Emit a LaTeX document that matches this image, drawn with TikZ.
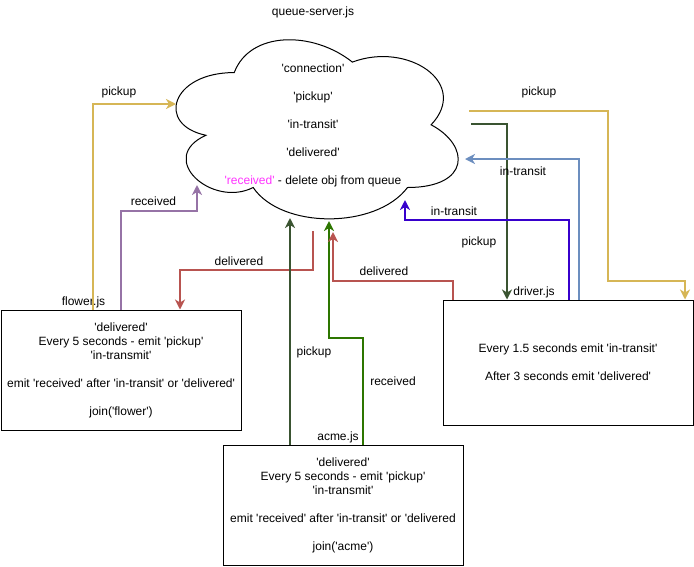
\documentclass[tikz,border=0pt]{standalone}
\usepackage{fontspec}
\newfontfamily\diagfont{Liberation Sans}
\usetikzlibrary{arrows.meta}

\definecolor{cYellow}{HTML}{D6B656}
\definecolor{cPurple}{HTML}{9673A6}
\definecolor{cRed}{HTML}{B85450}
\definecolor{cDkGreen}{HTML}{3A5431}
\definecolor{cGreen}{HTML}{2D7600}
\definecolor{cBlue}{HTML}{6C8EBF}
\definecolor{cViolet}{HTML}{3700CC}
\definecolor{cMagenta}{HTML}{FF33FF}

\begin{document}
\begin{tikzpicture}[x=1pt, y=-1pt,
  font=\diagfont\fontsize{12}{14}\selectfont,
  procbox/.style={draw=black, line width=1pt, align=center, inner sep=0pt},
  link/.style={line width=2pt, -{Stealth[length=10pt,width=10pt,inset=3pt]}},
  lbl/.style={inner sep=0pt, anchor=base}]

\useasboundingbox (0,0) rectangle (694,566);

% queue server cloud
\def\cx{155.5}\def\cy{20.3}\def\cw{315}\def\ch{209}
\draw[line width=1pt] ({\cx+.25*\cw},{\cy+.25*\ch})
  .. controls ({\cx+.05*\cw},{\cy+.25*\ch}) and ({\cx},{\cy+.5*\ch}) .. ({\cx+.16*\cw},{\cy+.55*\ch})
  .. controls ({\cx},{\cy+.66*\ch}) and ({\cx+.18*\cw},{\cy+.9*\ch}) .. ({\cx+.31*\cw},{\cy+.8*\ch})
  .. controls ({\cx+.4*\cw},{\cy+\ch}) and ({\cx+.7*\cw},{\cy+\ch}) .. ({\cx+.8*\cw},{\cy+.8*\ch})
  .. controls ({\cx+\cw},{\cy+.8*\ch}) and ({\cx+\cw},{\cy+.6*\ch}) .. ({\cx+.875*\cw},{\cy+.5*\ch})
  .. controls ({\cx+\cw},{\cy+.3*\ch}) and ({\cx+.8*\cw},{\cy+.1*\ch}) .. ({\cx+.625*\cw},{\cy+.2*\ch})
  .. controls ({\cx+.5*\cw},{\cy+.05*\ch}) and ({\cx+.3*\cw},{\cy+.05*\ch}) .. cycle;

\node[align=center, inner sep=0pt] (server) at (313,125.5)
  {'connection'\\[14pt]'pickup'\\[14pt]'in-transit'\\[14pt]'delivered'\\[14pt]{\color{cMagenta}'received'} - delete obj from queue};
\node[lbl] (servertitle) at (313,15) {queue-server.js};

% attachment points on the cloud
\coordinate (sFlPick) at (176,104);
\coordinate (sFlRcv)  at (197,185);
\coordinate (sFlDlv)  at (313,231);
\coordinate (sAcPick) at (290,218);
\coordinate (sAcRcv)  at (329,221);
\coordinate (sDrDlv)  at (333,232);
\coordinate (sDrPickY) at (469,111);
\coordinate (sDrPickG) at (471,124);
\coordinate (sDrTrB)  at (465,159);
\coordinate (sDrTrV)  at (405,200);

% client boxes
\node[procbox, minimum width=240pt, minimum height=120pt] (flower) at (121,370)
  {'delivered'\\Every 5 seconds - emit 'pickup'\\'in-transmit'\\[14pt]emit 'received' after 'in-transit' or 'delivered'\\[14pt]join('flower')};
\node[procbox, minimum width=240pt, minimum height=120pt] (acme) at (343,505)
  {'delivered'\\Every 5 seconds - emit 'pickup'\\'in-transmit'\\[14pt]emit 'received' after 'in-transit' or 'delivered\\[14pt]join('acme')};
\node[procbox, minimum width=250pt, minimum height=125pt] (driver) at (568,362.5)
  {Every 1.5 seconds emit 'in-transit'\\[14pt]After 3 seconds emit 'delivered'};

\node[lbl] (flowerjs) at (83.5,305) {flower.js};
\node[lbl] (acmejs) at (338,440) {acme.js};
\node[lbl] (driverjs) at (534,295) {driver.js};

% flower <-> server
\draw[link, cYellow] (93,0 |- flower.north) |- (sFlPick);
\node[lbl] at (119,95) {pickup};
\draw[link, cPurple] (flower.north) -- (121,211) -| (sFlRcv);
\node[lbl] at (153.5,205) {received};
\draw[link, cRed] (sFlDlv) -- (313,270) -| (180,0 |- flower.north);
\node[lbl] at (239,265) {delivered};

% acme <-> server
\draw[link, cDkGreen] (290,0 |- acme.north) -- (sAcPick);
\node[lbl] at (314,355) {pickup};
\draw[link, cGreen] (363,0 |- acme.north) -- (363,338) -| (sAcRcv);
\node[lbl] at (393,385) {received};

% driver <-> server
\draw[link, cRed] (453,0 |- driver.north) -- (453,281) -| (sDrDlv);
\node[lbl] at (384,275) {delivered};
\draw[link, cDkGreen] (sDrPickG) -| (507,0 |- driver.north);
\node[lbl] at (479,245) {pickup};
\draw[link, cBlue] (579,0 |- driver.north) |- (sDrTrB);
\node[lbl] at (523,175) {in-transit};
\draw[link, cViolet] (569,0 |- driver.north) -- (569,220) -| (sDrTrV);
\node[lbl] at (454,215) {in-transit};
\draw[link, cYellow] (sDrPickY) -| (608,281) -| (685,0 |- driver.north);
\node[lbl] at (539,95) {pickup};

\end{tikzpicture}
\end{document}
